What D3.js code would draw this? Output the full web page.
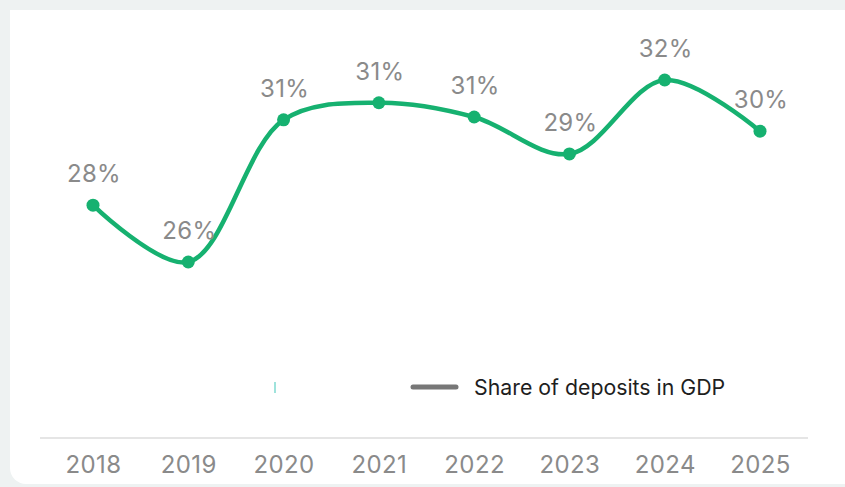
<!DOCTYPE html>
<html>
<head>
<meta charset="utf-8">
<script src="https://cdn.jsdelivr.net/npm/d3@7"></script>
<style>
  html, body { margin: 0; padding: 0; background: #eef2f2; }
  svg { display: block; }
</style>
</head>
<body>
<svg id="chart" width="845" height="487"></svg>
<script>
// Share of deposits in GDP, by year (percent)
const years = ["2018", "2019", "2020", "2021", "2022", "2023", "2024", "2025"];
const shareValues = [27.6, 25.6, 30.6, 31.2, 30.7, 29.4, 32.0, 30.2];
const seriesName = "Share of deposits in GDP";

const W = 845, H = 487;
const svg = d3.select("#chart");

// page background and white card
svg.append("rect").attr("width", W).attr("height", H).attr("fill", "#eef2f2");
svg.append("rect")
  .attr("x", 10).attr("y", 10)
  .attr("width", W + 20).attr("height", 474)
  .attr("rx", 16)
  .attr("fill", "#ffffff");
svg.append("rect")
  .attr("x", 10).attr("y", 10)
  .attr("width", W + 20).attr("height", 40)
  .attr("fill", "#ffffff");

const x = d3.scalePoint().domain(years).range([93, 760]);
const y = d3.scaleLinear().domain([20, 32]).range([421.3, 80]);

const data = years.map((yr, i) => ({ year: yr, value: shareValues[i] }));

// x axis
const xAxis = d3.axisBottom(x).tickSize(0).tickPadding(17.5);
const gx = svg.append("g").attr("transform", "translate(0,438)").call(xAxis);
gx.select(".domain").remove();
svg.append("line")
  .attr("x1", 40).attr("x2", 808)
  .attr("y1", 438).attr("y2", 438)
  .attr("stroke", "#dcdcdc").attr("stroke-width", 1.5);
gx.selectAll("text")
  .attr("font-family", "Inter, 'Noto Sans', sans-serif")
  .attr("font-size", 24)
  .attr("letter-spacing", 0.4)
  .attr("fill", "#8a8a8a");

// line
const line = d3.line()
  .x(d => x(d.year))
  .y(d => y(d.value))
  .curve(d3.curveCatmullRom.alpha(0.5));

svg.append("path")
  .datum(data)
  .attr("d", line)
  .attr("fill", "none")
  .attr("stroke", "#16b170")
  .attr("stroke-width", 4.5)
  .attr("stroke-linecap", "round");

svg.selectAll("circle.pt")
  .data(data)
  .join("circle")
  .attr("class", "pt")
  .attr("cx", d => x(d.year))
  .attr("cy", d => y(d.value))
  .attr("r", 6.5)
  .attr("fill", "#16b170");

// value labels
svg.selectAll("text.val")
  .data(data)
  .join("text")
  .attr("class", "val")
  .attr("x", d => x(d.year) + 1)
  .attr("y", d => y(d.value) - 23)
  .attr("text-anchor", "middle")
  .attr("font-family", "Inter, 'Noto Sans', sans-serif")
  .attr("font-size", 24)
  .attr("letter-spacing", 0.3)
  .attr("fill", "#8a8a8a")
  .text(d => d3.format(".0f")(d.value) + "%");

// legend
svg.append("rect")
  .attr("x", 274).attr("y", 382)
  .attr("width", 2).attr("height", 11)
  .attr("fill", "#9fe3dc");
svg.append("line")
  .attr("x1", 413).attr("x2", 456)
  .attr("y1", 387).attr("y2", 387)
  .attr("stroke", "#777777")
  .attr("stroke-width", 5)
  .attr("stroke-linecap", "round");
svg.append("text")
  .attr("x", 474).attr("y", 395)
  .attr("font-family", "Inter, 'Noto Sans', sans-serif")
  .attr("font-size", 21.3)
  .attr("fill", "#1e1e1e")
  .text(seriesName);
</script>
</body>
</html>
